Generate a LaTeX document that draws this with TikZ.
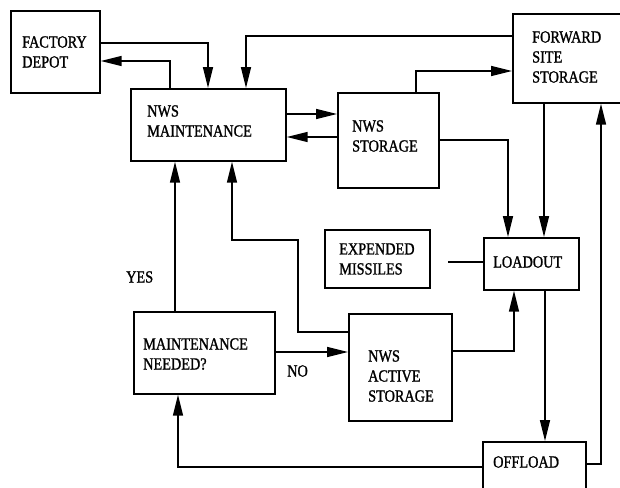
\documentclass[tikz,border=0pt]{standalone}
\usepackage{fontspec}
\setmainfont{Liberation Serif}[FakeStretch=0.84,FakeBold=1.2]
\usetikzlibrary{arrows.meta}
\begin{document}
\begin{tikzpicture}[x=1pt,y=-1pt,
  box/.style={draw,line width=1.7pt,rectangle,inner sep=0pt,anchor=north west},
  lbl/.style={anchor=west,align=left,inner sep=0pt,font=\fontsize{17}{20}\selectfont},
  conn/.style={line width=1.6pt},
  arr/.style={conn,-{Triangle[length=21pt,width=10pt]}}]
\useasboundingbox (0,0) rectangle (620,487);
\clip (0,0) rectangle (620,487);
% boxes
\node[box,minimum width=89pt,minimum height=82pt] (fd) at (10,10) {};
\node[box,minimum width=155pt,minimum height=72pt] (nm) at (130,88) {};
\node[box,minimum width=101pt,minimum height=95pt] (ns) at (337,92) {};
\node[box,minimum width=120pt,minimum height=89pt] (fs) at (512,13) {};
\node[box,minimum width=95pt,minimum height=52pt] (lo) at (483,237) {};
\node[box,minimum width=105pt,minimum height=58pt] (em) at (324,229) {};
\node[box,minimum width=103pt,minimum height=107pt] (as) at (348,313) {};
\node[box,minimum width=141pt,minimum height=82pt] (mn) at (133,311) {};
\node[box,minimum width=103pt,minimum height=70pt] (of) at (482,441) {};
% labels
\node[lbl] (tfd) at (22,52) {FACTORY\\DEPOT};
\node[lbl] (tnm) at (147,121) {NWS\\MAINTENANCE};
\node[lbl] (tns) at (352,136) {NWS\\STORAGE};
\node[lbl] (tfs) at (532,57) {FORWARD\\SITE\\STORAGE};
\node[lbl] (tem) at (339,259) {EXPENDED\\MISSILES};
\node[lbl] (tlo) at (493,262) {LOADOUT};
\node[lbl] (tas) at (368,376) {NWS\\ACTIVE\\STORAGE};
\node[lbl] (tmn) at (143,354) {MAINTENANCE\\NEEDED?};
\node[lbl] (tof) at (493,462) {OFFLOAD};
\node[lbl] (yes) at (126,277) {YES};
\node[lbl] (no) at (287,371) {NO};
% connectors
\draw[arr] (fd.east |- 0,43) -| (nm.north -| 208,0);
\draw[arr] (nm.north -| 170,0) |- (fd.east |- 0,61);
\draw[arr] (fs.west |- 0,36) -| (nm.north -| 246,0);
\draw[arr] (nm.east |- 0,114) -- (ns.west |- 0,114);
\draw[arr] (ns.west |- 0,137) -- (nm.east |- 0,137);
\draw[arr] (ns.north -| 416,0) |- (fs.west |- 0,71);
\draw[arr] (ns.east |- 0,140) -| (lo.north -| 508,0);
\draw[arr] (fs.south -| 544,0) -- (lo.north -| 544,0);
\coordinate (emend) at (448,262);
\draw[conn] (emend) -- (lo.west |- emend);
\draw[arr] (as.east |- 0,351) -| (lo.south -| 514,0);
\draw[arr] (as.west |- 0,332) -| (298,240) -| (nm.south -| 232,0);
\draw[arr] (mn.north -| 175,0) -- (nm.south -| 175,0);
\draw[arr] (mn.east |- 0,352) -- (as.west |- 0,352);
\draw[arr] (lo.south -| 545,0) -- (of.north -| 545,0);
\draw[arr] (of.west |- 0,467) -| (mn.south -| 178,0);
\draw[arr] (of.east |- 0,464) -| (fs.south -| 601,0);
\end{tikzpicture}
\end{document}
